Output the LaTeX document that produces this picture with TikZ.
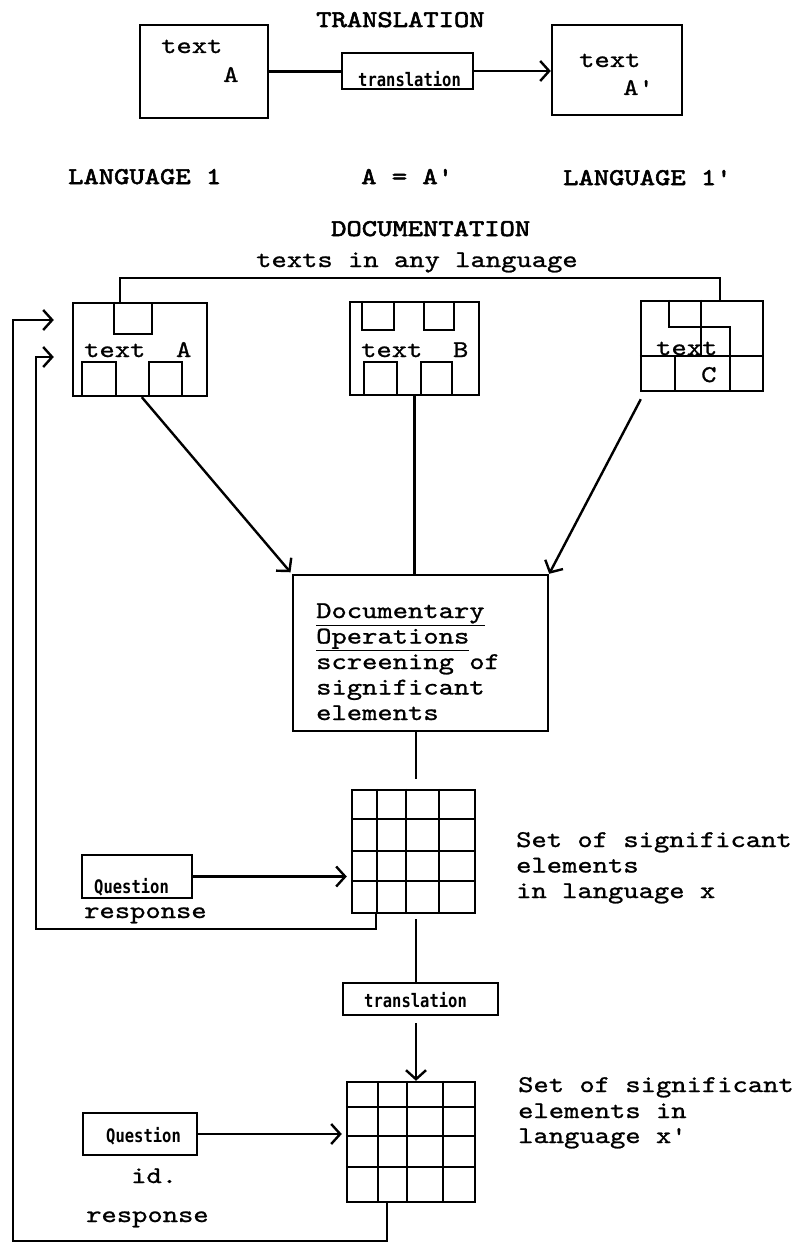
\documentclass[tikz,border=0pt]{standalone}
\usepackage{fontspec}
\newfontfamily\tyw{lmmono10-regular.otf}[FakeStretch=1.215,FakeBold=1]
\newfontfamily\tywb{lmmono10-regular.otf}[FakeStretch=1.215,FakeBold=2.5]
\newfontfamily\dotfont{DejaVu Sans Mono}
\usetikzlibrary{arrows.meta,calc}

\begin{document}
\begin{tikzpicture}[x=1pt,y=1pt,
  line width=2.4pt,
  every node/.style={inner sep=0pt},
  tw/.style={anchor=base west,font=\tyw\fontsize{24}{24}\selectfont},
  head/.style={anchor=base west,font=\tywb\fontsize{24}{24}\selectfont},
  dot/.style={anchor=base west,font=\dotfont\bfseries\fontsize{15.5}{15.5}\selectfont},
  box/.style={draw},
  arr/.style={-{Straight Barb[length=9pt,width=20pt]}},
]
\useasboundingbox (0,0) rectangle (795,-1244);

% ---------- translation ----------
\node[head] (tTitle) at (315,-27) {TRANSLATION};
\node[box,minimum width=128pt,minimum height=93pt] (boxA) at (204,-71.5) {};
\node[tw] (boxAt1) at (160,-53) {text};
\node[tw] (boxAt2) at (222,-82) {A};
\node[box,minimum width=131pt,minimum height=36pt] (tr1) at (407.5,-71) {};
\node[dot] (tr1t) at (357,-87) {\scalebox{1}[1.2]{translation}};
\node[box,minimum width=130pt,minimum height=90pt] (boxAp) at (617,-70) {};
\node[tw] (boxApt1) at (578,-67) {text};
\node[tw] (boxApt2) at (622,-95) {A'};
\draw (boxA.east) -- (boxA.east -| tr1.west);
\draw[arr] (tr1.east) -- (tr1.east -| boxAp.west);

\node[head] (lang1) at (67,-184) {LANGUAGE 1};
\node[head] (eq) at (360,-184) {A = A'};
\node[head] (lang1p) at (562,-185) {LANGUAGE 1'};

% ---------- documentation ----------
\node[head] (dTitle) at (330,-236) {DOCUMENTATION};
\node[tw] (anyLang) at (255,-267) {texts in any language};

\node[box,minimum width=134pt,minimum height=93pt] (docA) at (140,-349.5) {};
\node[box,minimum width=129pt,minimum height=93pt] (docB) at (414.5,-348.5) {};
\node[box,minimum width=122pt,minimum height=90pt] (docC) at (702,-346) {};

\begin{scope}[shift={(docA.north west)}]
  \draw (42,0) |- (80,-32) -- (80,0);
  \draw (10,-93) |- (44,-60) -- (44,-93);
  \draw (77,-93) |- (110,-60) -- (110,-93);
\end{scope}
\begin{scope}[shift={(docB.north west)}]
  \draw (13,0) |- (45,-29) -- (45,0);
  \draw (75,0) |- (105,-29) -- (105,0);
  \draw (15,-93) |- (48,-61) -- (48,-93);
  \draw (72,-93) |- (103,-61) -- (103,-93);
\end{scope}
\begin{scope}[shift={(docC.north west)}]
  \draw (29,0) |- (90,-27) -- (90,-90);
  \draw (61,0) -- (61,-56);
  \draw (0,-56) -- (122,-56);
  \draw (35,-56) -- (35,-90);
\end{scope}

\node[tw] (docAt) at (83,-357) {text~~A};
\node[tw] (docBt) at (360,-357) {text~~B};
\node[tw] (docCt1) at (655,-355) {text};
\node[tw] (docCt2) at (700,-382) {C};

\coordinate (brL) at (120,-278);
\coordinate (brR) at (720,-278);
\draw (docA.north -| brL) -- (brL) -- (brR) -- (docC.north -| brR);

% ---------- documentary operations ----------
\node[box,minimum width=255pt,minimum height=156pt] (doc) at (420.5,-653) {};
\node[tw] (op1) at (315,-618) {\underline{Documentary}};
\node[tw] (op2) at (315,-643.5) {\underline{Operations}};
\node[tw] (op3) at (315,-669) {screening of};
\node[tw] (op4) at (315,-694.5) {significant};
\node[tw] (op5) at (315,-720) {elements};

\draw[arr,shorten >=2pt] ($(docA.south west)+(70,0)$) -- (doc.north west);
\draw (docB.south) -- (docB.south |- doc.north);
\draw[arr] ($(docC.south west)+(1,-7)$) -- (doc.north east);

% ---------- first set of elements ----------
\node[box,minimum width=123pt,minimum height=123pt] (grid1) at (413.5,-851.5) {};
\begin{scope}[shift={(grid1.north west)}]
  \foreach \c in {26,55,88} \draw (\c,0) -- (\c,-123);
  \foreach \r in {30,62,92} \draw (0,-\r) -- (123,-\r);
\end{scope}
\node[tw] (s1a) at (515,-847) {Set of significant};
\node[tw] (s1b) at (515,-872.5) {elements};
\node[tw] (s1c) at (515,-898) {in language x};

\node[box,minimum width=110pt,minimum height=43pt] (q1) at (137,-876.5) {};
\node[dot] (q1t) at (93,-893) {\scalebox{1}[1.2]{Question}};
\node[tw] (resp1) at (83,-918) {response};
\draw[arr,shorten >=4pt] (q1.east) -- (q1.east -| grid1.west);

\coordinate (vx) at (416,0);
\draw (doc.south -| vx) -- ($(grid1.north -| vx)+(0,10)$);

% ---------- translation of the set ----------
\node[box,minimum width=155pt,minimum height=32pt] (tr2) at (420.5,-999) {};
\node[dot] (tr2t) at (363,-1007) {\scalebox{1}[1.2]{translation}};
\draw ($(grid1.south -| vx)+(0,-5)$) -- (tr2.north -| vx);

% ---------- second set of elements ----------
\node[box,minimum width=128pt,minimum height=120pt] (grid2) at (411,-1142) {};
\begin{scope}[shift={(grid2.north west)}]
  \foreach \c in {32,61,97} \draw (\c,0) -- (\c,-120);
  \foreach \r in {26,55,86} \draw (0,-\r) -- (128,-\r);
\end{scope}
\draw[arr] ($(tr2.south -| vx)+(0,-7)$) -- (grid2.north -| vx);
\node[tw] (s2a) at (517,-1092) {Set of significant};
\node[tw] (s2b) at (517,-1118) {elements in};
\node[tw] (s2c) at (517,-1143) {language x'};

\node[box,minimum width=114pt,minimum height=42pt] (q2) at (140,-1134) {};
\node[dot] (q2t) at (105,-1142) {\scalebox{1}[1.2]{Question}};
\node[tw] (idt) at (130,-1183) {id.};
\node[tw] (resp2) at (85,-1222) {response};
\draw[arr,shorten >=4pt] (q2.east) -- (q2.east -| grid2.west);

% ---------- feedback loops ----------
\coordinate (l1) at (36,-929);
\draw[arr] ($(grid1.south west)+(25,0)$) |- (l1) |- ($(docA.west)+(-18,-7.5)$);
\coordinate (l2) at (13,-1241);
\draw[arr] ($(grid2.south west)+(41,0)$) |- (l2) |- ($(docA.west)+(-18,29.5)$);
\end{tikzpicture}
\end{document}
